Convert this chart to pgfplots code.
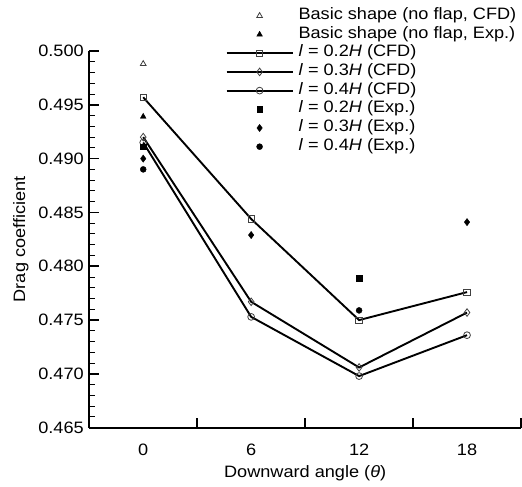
\documentclass[border=0pt]{standalone}
\usepackage{fontspec}
\setmainfont{Liberation Sans}[FakeStretch=1.1]
\usepackage{pgfplots}
\pgfplotsset{compat=1.18}
\begin{document}
\begin{tikzpicture}
\begin{axis}[
  scale only axis, width=432pt, height=377pt,
  xmin=-3, xmax=21, ymin=0.465, ymax=0.500,
  axis lines*=left,
  axis line style={line width=2pt},
  font=\fontsize{16.5}{19}\selectfont,
  /pgf/number format/assume math mode=true,
  xtick={-3,3,9,15,21}, xticklabels={},
  extra x ticks={0,6,12,18}, extra x tick labels={0,6,12,18},
  extra x tick style={major tick length=0pt, xticklabel style={yshift=-13pt}},
  ytick={0.465,0.470,0.475,0.480,0.485,0.490,0.495,0.500},
  minor y tick num=4,
  scaled y ticks=false,
  yticklabel style={xshift=-2pt, /pgf/number format/.cd, fixed, fixed zerofill, precision=3},
  tick align=inside,
  major tick length=10pt, minor tick length=5.5pt,
  every major tick/.style={black, line width=1.6pt},
  every minor tick/.style={black, line width=1pt},
  xlabel={Downward angle (\textit{θ})},
  xlabel style={yshift=-3pt},
  ylabel={Drag coefficient},
  ylabel style={yshift=3pt},
  legend image code/.code={\draw[mark repeat=2,mark phase=2,#1] plot coordinates {(0pt,0pt) (33pt,0pt) (66pt,0pt)};},
  legend style={draw=none, fill=none, at={(0.316,1.118)}, anchor=north west,
    inner sep=0pt, outer sep=0pt, row sep=0pt, column sep=5pt,
    font=\fontsize{16.5}{18.7}\selectfont,
    nodes={inner sep=0pt, text height=13pt, text depth=5.7pt}},
  legend cell align=left,
  clip=false,
]
\addplot[only marks, mark=triangle, mark size=3.3pt, mark options={fill=white, draw=black!75, line width=0.8pt}]
  coordinates {(0,0.4988)};
\addlegendentry{Basic shape (no flap, CFD)}
\addplot[only marks, mark=triangle*, mark size=3.3pt, mark options={fill=black, draw=black}]
  coordinates {(0,0.4939)};
\addlegendentry{Basic shape (no flap, Exp.)}
\addplot[black, line width=1.9pt, mark=square, mark size=3.2pt, mark options={solid, fill=white, draw=black!75, line width=0.8pt}]
  coordinates {(0,0.4957) (6,0.4844) (12,0.4750) (18,0.4776)};
\addlegendentry{\textit{l} = 0.2\textit{H} (CFD)}
\addplot[black, line width=1.9pt, mark=diamond, mark size=3.8pt, mark options={solid, fill=white, draw=black!75, line width=0.8pt}]
  coordinates {(0,0.4920) (6,0.4767) (12,0.4706) (18,0.4757)};
\addlegendentry{\textit{l} = 0.3\textit{H} (CFD)}
\addplot[black, line width=1.9pt, mark=o, mark size=3.4pt, mark options={solid, fill=white, draw=black!75, line width=0.8pt}]
  coordinates {(0,0.4915) (6,0.4753) (12,0.4698) (18,0.4736)};
\addlegendentry{\textit{l} = 0.4\textit{H} (CFD)}
\addplot[only marks, mark=square*, mark size=2.8pt, mark options={fill=black, draw=black}]
  coordinates {(0,0.4911) (12,0.4789)};
\addlegendentry{\textit{l} = 0.2\textit{H} (Exp.)}
\addplot[only marks, mark=diamond*, mark size=3.6pt, mark options={fill=black, draw=black}]
  coordinates {(0,0.4900) (6,0.4829) (18,0.4841)};
\addlegendentry{\textit{l} = 0.3\textit{H} (Exp.)}
\addplot[only marks, mark=*, mark size=3pt, mark options={fill=black, draw=black}]
  coordinates {(0,0.4890) (12,0.4759)};
\addlegendentry{\textit{l} = 0.4\textit{H} (Exp.)}
\coordinate (ll) at (rel axis cs:0,0);
\coordinate (ur) at (rel axis cs:1,1);
\end{axis}
\pgfresetboundingbox
\path[use as bounding box] ([shift={(-89.3pt,-58.7pt)}]ll) rectangle ([shift={(1pt,51pt)}]ur);
\end{tikzpicture}
\end{document}
